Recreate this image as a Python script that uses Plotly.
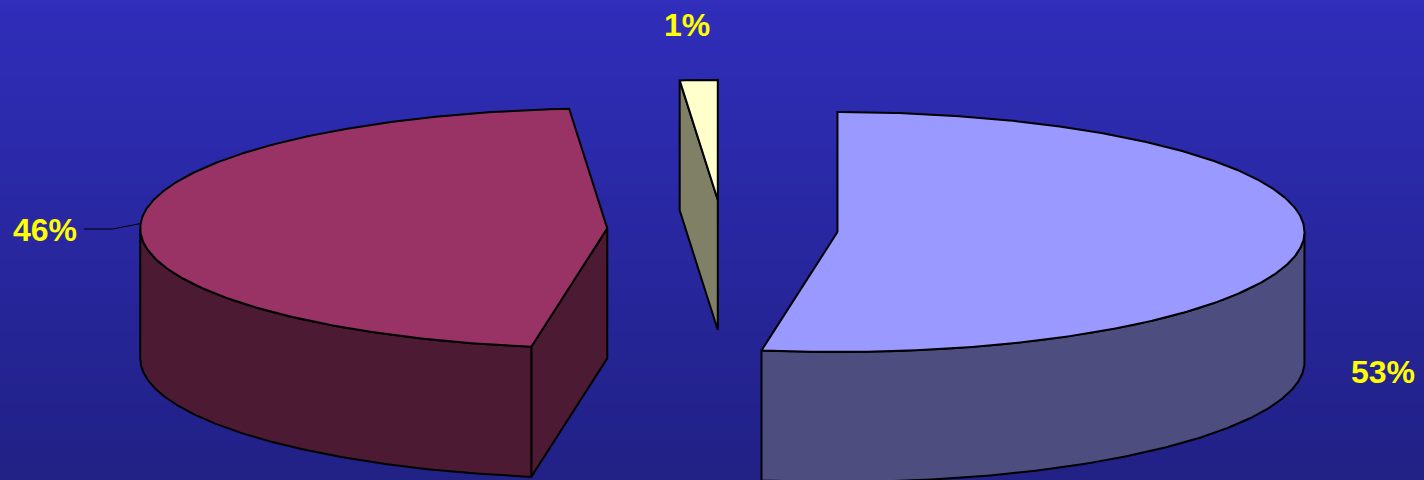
import numpy as np
import plotly.graph_objects as go

# ---- data ----
categories = ["Series A", "Series B", "Series C"]
values = [52.6, 46.1, 1.3]          # percent shares (clockwise from 12 o'clock)
labels = [f"{round(v)}%" for v in values]
top_colors = ["#9999FF", "#993366", "#FFFFCC"]
side_colors = ["#4D4D80", "#4D1A33", "#808066"]

# ---- pie geometry (pixels in a 1424x480 axis space) ----
W, H = 1424, 480
CX, CY = 722.5, 229.6      # pie centre
RA, RB = 467.0, 120.0      # ellipse semi axes
DEPTH = 130.0              # thickness
EXPLODE = 0.247            # explosion as a fraction of radius
label_pos = [(1383, 372), (45, 230), (687, 25)]

fig = go.Figure()

# gradient background
n = 120
top_rgb = np.array([48, 46, 186])
bot_rgb = np.array([33, 33, 134])
shapes = []
for i in range(n):
    t = i / (n - 1)
    c = (top_rgb * (1 - t) + bot_rgb * t).astype(int)
    shapes.append(dict(type="rect", xref="x", yref="y", x0=0, x1=W,
                       y0=H * i / n, y1=H * (i + 1) / n + 0.6, layer="below",
                       line=dict(width=0), fillcolor=f"rgb({c[0]},{c[1]},{c[2]})"))


def pt(cx, cy, phi_deg, r=1.0):
    p = np.radians(phi_deg)
    return cx + RA * r * np.sin(p), cy - RB * r * np.cos(p)


def poly(xs, ys, color, width=2):
    fig.add_trace(go.Scatter(x=list(xs), y=list(ys), mode="lines", fill="toself",
                             fillcolor=color, line=dict(color="black", width=width),
                             hoverinfo="skip", showlegend=False))


total = sum(values)
start = 0.0
label_anchor = []
for i, v in enumerate(values):
    span = 360.0 * v / total
    p1, p2 = start, start + span
    mid = (p1 + p2) / 2
    mp = np.radians(mid)
    cx = CX + RA * EXPLODE * np.sin(mp)
    cy = CY - RB * EXPLODE * np.cos(mp)
    # radial faces
    for phi, visible in ((p1, np.sin(np.radians(p1)) < -1e-6),
                         (p2, np.sin(np.radians(p2)) > 1e-6)):
        if visible:
            ex, ey = pt(cx, cy, phi)
            poly([cx, ex, ex, cx, cx], [cy, ey, ey + DEPTH, cy + DEPTH, cy], side_colors[i])
    # outer rim (front half 90..270)
    a1, a2 = max(p1, 90.0), min(p2, 270.0)
    if a2 > a1:
        ph = np.linspace(a1, a2, 200)
        xs, ys = pt(cx, cy, ph)
        rx = np.concatenate([xs, xs[::-1], xs[:1]])
        ry = np.concatenate([ys, ys[::-1] + DEPTH, ys[:1]])
        poly(rx, ry, side_colors[i])
    # top face
    ph = np.linspace(p1, p2, max(int(span * 2), 4))
    xs, ys = pt(cx, cy, ph)
    poly(np.concatenate([[cx], xs, [cx]]), np.concatenate([[cy], ys, [cy]]), top_colors[i])
    label_anchor.append(pt(cx, cy, mid))
    start = p2

# leader line for the second label
ax_, ay_ = label_anchor[1]
lx, ly = label_pos[1]
fig.add_trace(go.Scatter(x=[lx + 39, ax_ - 28, ax_], y=[ly - 1, ly - 1, ay_], mode="lines",
                         line=dict(color="black", width=1), hoverinfo="skip", showlegend=False))

annotations = [dict(x=x, y=y, xref="x", yref="y", text=f"<b>{t}</b>", showarrow=False,
                    font=dict(family="Liberation Sans, Arial, sans-serif", size=32, color="#FFFF00"))
               for t, (x, y) in zip(labels, label_pos)]

fig.update_layout(
    width=W, height=H, margin=dict(l=0, r=0, t=0, b=0),
    paper_bgcolor="#2a2aa8", plot_bgcolor="#2a2aa8",
    xaxis=dict(range=[0, W], visible=False, fixedrange=True),
    yaxis=dict(range=[H, 0], visible=False, fixedrange=True),
    shapes=shapes, annotations=annotations, showlegend=False,
)
fig.write_html("out.html", config={"displayModeBar": False},
               post_script="document.body.style.margin='0px';document.body.style.overflow='hidden';")
